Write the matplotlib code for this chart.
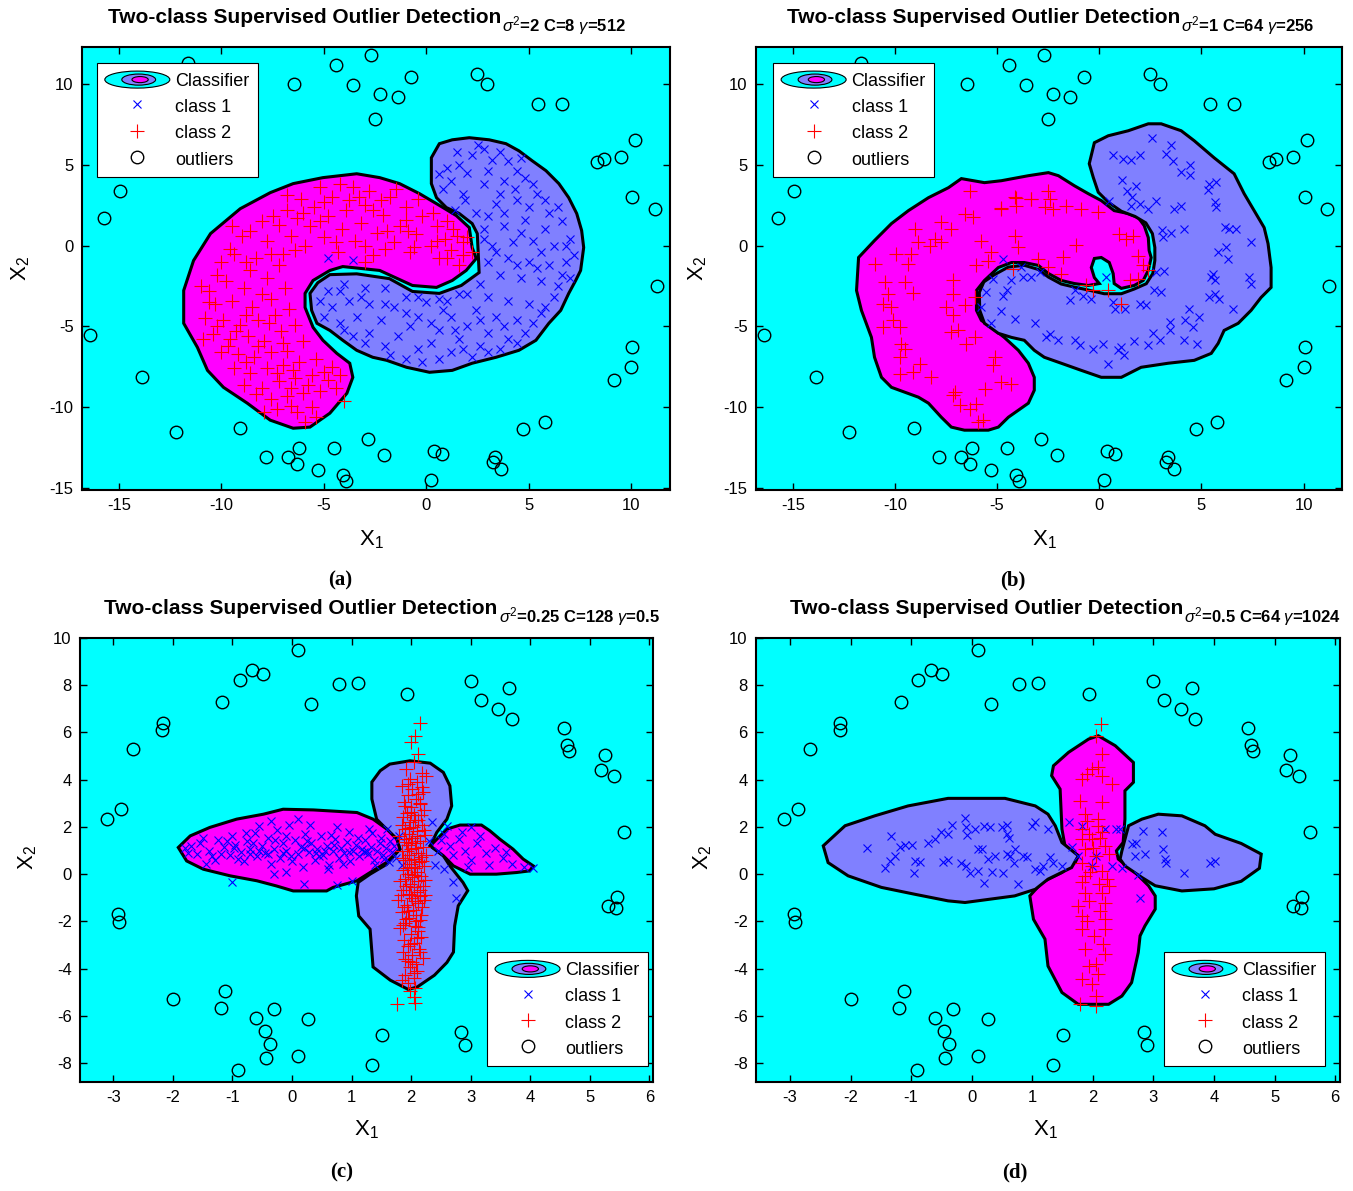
import matplotlib
matplotlib.use("Agg")
import matplotlib.pyplot as plt
import numpy as np
from matplotlib import font_manager
from matplotlib.legend_handler import HandlerBase
from matplotlib.patches import Ellipse, Polygon, Patch
from matplotlib.lines import Line2D

names = {f.name for f in font_manager.fontManager.ttflist}
SANS = "Liberation Sans" if "Liberation Sans" in names else "DejaVu Sans"
SERIF = "Liberation Serif" if "Liberation Serif" in names else "DejaVu Serif"

plt.rcParams['font.family'] = [SANS, 'DejaVu Sans']
plt.rcParams['mathtext.fontset'] = 'custom'
plt.rcParams['mathtext.rm'] = SANS
plt.rcParams['mathtext.it'] = SANS + ':italic'
plt.rcParams['mathtext.bf'] = SANS + ':bold'
plt.rcParams['axes.unicode_minus'] = False

CYAN = '#00ffff'
MAGENTA = '#ff00ff'
LBLUE = '#8080ff'

# ---------------- data: panels (a) and (b) share the outliers ----------------
ab_outliers = [(-11.65, 11.3), (-4.42, 11.17), (-2.72, 11.79), (-6.46, 10.0), (-3.59, 9.94),
               (-2.28, 9.38), (-2.52, 7.84), (-14.95, 3.40), (-15.73, 1.73), (-0.73, 10.43),
               (-1.41, 9.20), (2.48, 10.62), (2.96, 10.0), (5.44, 8.77), (6.60, 8.77),
               (10.19, 6.54), (9.47, 5.49), (8.64, 5.37), (8.30, 5.19), (10.05, 3.02),
               (11.17, 2.28), (-16.4, -5.56), (-13.88, -8.15), (-12.23, -11.54), (-9.08, -11.30),
               (-7.82, -13.09), (-6.75, -13.09), (-6.21, -12.53), (-6.31, -13.52), (-5.29, -13.89),
               (-4.51, -12.53), (-4.08, -14.2), (-3.93, -14.57), (-2.86, -11.98), (-2.09, -12.96),
               (11.26, -2.53), (10.05, -6.30), (10.0, -7.53), (9.13, -8.33), (5.78, -10.93),
               (4.71, -11.36), (0.39, -12.72), (0.78, -12.90), (3.35, -13.09), (3.25, -13.40),
               (3.64, -13.83), (0.24, -14.51)]

a_region2 = [(2.23, -0.12), (2.09, 1.11), (1.46, 1.85), (0.49, 2.59), (-0.34, 3.21), (-1.31, 3.83),
             (-2.28, 4.20), (-3.40, 4.44), (-5.05, 4.20), (-6.50, 3.83), (-7.62, 3.27), (-9.08, 2.28),
             (-10.53, 0.74), (-11.36, -0.93), (-11.84, -2.78), (-11.84, -4.81), (-11.17, -6.30),
             (-10.68, -7.72), (-9.90, -8.77), (-8.74, -9.75), (-7.62, -10.80), (-6.50, -11.30),
             (-5.68, -11.23), (-4.71, -10.37), (-3.88, -9.14), (-3.59, -8.15), (-3.74, -7.28),
             (-4.37, -6.67), (-5.05, -5.86), (-5.53, -5.06), (-5.92, -3.83), (-5.92, -2.96),
             (-5.53, -2.16), (-4.71, -1.54), (-4.08, -1.30), (-2.28, -1.54), (-0.68, -2.47),
             (0.49, -2.59), (1.26, -2.16), (1.94, -1.54), (2.43, -0.80)]

a_region1 = [(0.24, 5.43), (0.63, 6.30), (1.26, 6.54), (2.09, 6.67), (3.06, 6.54), (3.88, 6.30),
             (4.51, 5.86), (5.15, 5.25), (5.83, 4.63), (6.46, 3.83), (6.94, 2.96), (7.33, 1.98),
             (7.57, 0.93), (7.67, -0.12), (7.52, -1.54), (7.28, -2.16), (6.94, -2.96), (6.55, -4.01),
             (5.97, -4.81), (5.34, -5.86), (4.51, -6.48), (3.40, -6.91), (2.23, -7.28), (1.26, -7.72),
             (0.15, -7.84), (-0.97, -7.53), (-1.94, -7.10), (-2.62, -6.91), (-3.40, -6.48),
             (-4.08, -5.86), (-4.71, -5.25), (-5.34, -4.81), (-5.60, -4.01), (-5.68, -2.96),
             (-5.30, -2.30), (-4.71, -1.80), (-3.40, -1.75), (-1.80, -2.05), (-0.68, -2.84),
             (0.63, -2.96), (1.70, -2.47), (2.57, -1.67), (2.48, 0.74), (2.23, 1.36), (1.60, 1.98),
             (0.97, 2.35), (0.49, 2.96), (0.24, 3.83)]

a_class1 = [(1.5, 5.8), (2.5, 6.2), (1.0, 4.8), (2.0, 4.5), (3.2, 5.3), (4.0, 5.2), (0.8, 3.5), (1.8, 3.2),
            (2.8, 3.8), (3.8, 4.0), (4.8, 4.2), (1.4, 2.2), (2.4, 2.0), (3.4, 2.6), (4.4, 2.8), (5.4, 3.2),
            (6.0, 2.0), (2.8, 1.0), (3.8, 1.2), (4.8, 1.6), (5.8, 1.0), (6.6, 1.5), (3.2, 0.0), (4.2, 0.2),
            (5.2, 0.3), (6.2, 0.0), (7.0, 0.4), (3.0, -1.0), (4.0, -0.8), (5.0, -1.0), (6.0, -1.2),
            (6.8, -1.0), (7.0, -2.0), (3.6, -1.8), (4.6, -2.0), (5.6, -2.2), (6.4, -2.5), (2.6, -2.4),
            (1.2, 4.0), (3.0, 4.6), (4.3, 3.5), (5.0, 2.4), (3.0, 1.8), (3.6, 3.2), (2.0, -3.0),
            (3.0, -3.2), (4.0, -3.4), (5.0, -3.6), (5.8, -3.8), (1.0, -3.4), (2.4, -4.0), (3.4, -4.4),
            (4.4, -4.6), (5.2, -4.8), (0.0, -3.5), (1.2, -4.4), (2.0, -5.0), (3.0, -5.4), (4.0, -5.8),
            (-1.0, -3.2), (-0.4, -4.4), (0.6, -5.2), (1.6, -5.8), (2.6, -6.2), (3.6, -6.4), (-2.0, -2.6),
            (-1.6, -3.8), (-0.8, -5.0), (0.2, -6.0), (1.2, -6.6), (-3.0, -2.6), (-2.8, -3.6), (-2.2, -4.6),
            (-1.4, -5.6), (-0.4, -6.4), (0.6, -7.0), (-4.0, -2.4), (-3.8, -3.4), (-3.4, -4.4), (-2.8, -5.4),
            (-2.0, -6.2), (-4.8, -2.8), (-4.6, -3.8), (-4.2, -4.8), (-3.6, -5.6), (-5.2, -3.4), (-1.0, -7.0),
            (2.2, -6.9), (0.6, -3.3), (1.6, -3.0), (-4.8, -0.8), (-3.6, -0.9), (4.6, 5.4), (1.9, 2.8),
            (0.6, 4.4), (1.6, 5.0), (2.2, 5.6), (2.8, 6.0), (3.6, 5.8), (4.4, 4.6), (5.2, 3.8), (5.8, 2.8),
            (6.4, 2.4), (6.8, 0.0), (7.2, -0.6), (6.6, -1.8), (5.4, -1.4), (4.4, -1.2), (3.4, -0.4),
            (2.8, 0.4), (3.8, 2.0), (4.6, 0.8), (5.6, -0.4), (2.6, -4.6), (3.8, -5.0), (4.8, -5.4),
            (5.6, -4.2), (6.2, -3.2), (1.4, -5.2), (0.2, -4.8), (-1.0, -4.2), (-2.0, -3.6), (-3.2, -3.2),
            (-4.2, -2.8), (-5.0, -4.4), (-4.0, -5.2), (-3.0, -6.0), (-1.8, -6.8), (-0.2, -7.2), (1.8, -6.4),
            (3.0, -6.6), (4.4, -6.0), (0.8, -4.0), (-0.4, -3.2)]

a_class2 = [(2.0, 0.5), (1.8, 0.2), (1.5, 0.6), (1.2, -0.3), (1.6, -1.2), (0.9, 0.4), (0.5, 1.2), (0.2, 0.0),
            (0.6, -0.8), (-0.2, 1.8), (-0.5, 0.7), (-0.8, -0.4), (-1.0, 2.4), (-1.3, 1.2), (-1.6, 0.2),
            (-1.8, 3.0), (-2.1, 1.9), (-2.4, 0.8), (-2.6, -0.6), (-2.8, 3.4), (-3.0, 2.5), (-3.2, 1.4),
            (-3.5, 0.3), (-3.6, 3.6), (-3.9, 2.2), (-4.1, 1.0), (-4.3, -0.4), (-4.6, 3.0), (-4.8, 1.8),
            (-5.0, 0.5), (-5.2, 3.6), (-5.5, 2.4), (-5.7, 1.2), (-5.9, 0.0), (-6.1, 2.9), (-6.3, 1.7),
            (-6.6, 0.6), (-6.8, 2.2), (-7.0, -0.5), (-7.2, 1.3), (-0.4, 2.9), (0.3, 2.0), (1.0, 1.5),
            (-1.5, 3.5), (2.2, -0.4), (-2.0, -0.2), (-3.0, -1.0), (1.3, 1.0), (-0.9, 0.9), (-3.3, 3.0),
            (-7.8, 0.3), (-8.3, -0.8), (-8.0, 1.5), (-9.0, 0.6), (-9.4, -0.5), (-8.6, -1.5), (-10.0, -1.0),
            (-9.8, -2.2), (-8.9, -2.6), (-7.8, -2.0), (-7.2, -1.2), (-10.6, -2.8), (-10.3, -3.6),
            (-9.5, -3.4), (-8.5, -3.8), (-7.6, -3.3), (-6.9, -2.6), (-10.8, -4.5), (-9.9, -4.6),
            (-9.1, -4.9), (-8.2, -4.6), (-7.4, -4.3), (-6.7, -3.9), (-10.4, -5.5), (-9.6, -5.8),
            (-8.7, -5.6), (-7.9, -5.9), (-7.1, -5.3), (-6.4, -4.9), (-10.0, -6.6), (-9.2, -6.7),
            (-8.4, -6.9), (-7.6, -6.6), (-6.8, -6.5), (-6.0, -5.9), (-9.4, -7.6), (-8.6, -7.9),
            (-7.8, -7.6), (-7.0, -7.4), (-6.2, -7.2), (-5.4, -7.0), (-4.6, -7.5), (-8.9, -8.6),
            (-8.0, -8.8), (-7.2, -8.4), (-6.4, -8.2), (-5.6, -8.0), (-4.8, -8.3), (-4.2, -8.0),
            (-7.6, -9.5), (-6.8, -9.3), (-6.0, -9.1), (-5.2, -9.0), (-7.3, -10.1), (-6.3, -10.3),
            (-5.6, -10.0), (-5.9, -10.9), (-6.6, -9.9), (-8.3, -9.2),
            (-1.0, 1.6), (-2.6, 2.2), (-3.8, 2.8), (-5.0, 2.7), (-6.0, 2.0), (-7.5, 1.8), (-8.6, 0.9),
            (-9.6, -0.2), (-10.2, -1.8), (-10.6, -3.5), (-10.2, -5.0), (-9.7, -6.2), (-8.8, -7.2),
            (-7.3, -7.9), (-6.6, -8.8), (-5.8, -8.6), (-5.0, -7.8), (-4.4, -8.8), (-8.0, -3.0), (-8.8, -4.3),
            (-9.3, -5.3), (-7.7, -4.8), (-8.2, -6.2), (-7.0, -6.0), (-6.5, -7.7), (-8.8, -1.0), (-7.6, -0.5),
            (-6.4, -0.3), (-5.2, 1.5), (-4.4, 0.2), (-3.0, 0.0), (-1.9, 0.9), (-0.6, -0.1), (0.5, 0.3),
            (1.0, -0.8), (1.8, -0.6), (-2.2, 2.8), (-4.2, 3.8), (-6.8, 3.1), (-9.5, 1.2), (-11.0, -2.5),
            (-10.9, -5.8), (-5.4, -10.6), (-7.9, -10.3), (-4.0, -9.6)]

b_region2 = [(-7.38, 3.58), (-6.75, 4.14), (-5.62, 3.89), (-4.79, 4.01), (-3.47, 4.32), (-2.49, 4.51),
             (-2.00, 4.32), (-1.22, 3.70), (-0.54, 3.21), (0.10, 2.78), (0.73, 2.16), (1.42, 1.98),
             (1.91, 1.73), (2.20, 1.23), (2.40, 0.49), (2.44, -0.31), (2.54, -0.74), (2.40, -1.54),
             (2.15, -2.16), (1.71, -2.47), (1.08, -2.65), (0.73, -2.35), (0.68, -1.73), (0.49, -1.05),
             (0.10, -0.74), (-0.24, -0.80), (-0.39, -1.36), (-0.24, -1.98), (0.0, -2.35), (-0.54, -2.47),
             (-1.22, -2.35), (-1.86, -2.16), (-2.49, -1.73), (-2.98, -1.23), (-3.67, -1.05), (-4.30, -1.05),
             (-4.94, -1.36), (-5.62, -2.16), (-6.01, -2.78), (-6.01, -4.01), (-5.77, -4.63), (-5.28, -5.06),
             (-4.65, -5.68), (-3.96, -6.48), (-3.47, -7.28), (-3.18, -8.15), (-3.18, -8.95), (-3.47, -9.75),
             (-4.45, -10.62), (-4.94, -11.23), (-5.43, -11.42), (-6.60, -11.42), (-7.24, -11.23),
             (-7.73, -10.62), (-8.36, -9.75), (-8.85, -9.38), (-10.17, -8.77), (-10.66, -8.15),
             (-11.00, -6.91), (-11.15, -5.68), (-11.64, -4.01), (-11.88, -2.78), (-11.78, -0.74),
             (-11.00, 0.31), (-10.17, 1.36), (-9.34, 2.16), (-8.36, 2.96)]

b_region1 = [(-0.49, 5.06), (-0.24, 6.36), (0.44, 6.79), (1.42, 7.10), (2.40, 7.53), (3.03, 7.53), (4.01, 7.10),
             (4.65, 6.48), (5.62, 5.43), (6.60, 4.44), (7.09, 3.21), (7.58, 2.16), (8.07, 1.11), (8.26, 0.12),
             (8.41, -1.36), (8.41, -2.59), (7.92, -3.21), (7.43, -4.01), (6.80, -4.81), (6.11, -5.25),
             (5.82, -6.05), (5.48, -6.67), (4.65, -7.10), (3.37, -7.28), (2.05, -7.53), (1.08, -8.15),
             (0.10, -8.15), (-0.88, -7.72), (-1.86, -7.28), (-2.69, -6.91), (-3.18, -6.48), (-3.67, -5.86),
             (-4.30, -5.68), (-4.94, -5.43), (-5.62, -4.81), (-5.85, -4.01), (-5.87, -2.90), (-5.65, -2.25),
             (-5.13, -1.80), (-4.45, -1.33), (-3.67, -1.22), (-2.98, -1.48), (-2.49, -1.95), (-1.86, -2.38),
             (-1.22, -2.57), (-0.54, -2.75), (0.24, -2.98), (1.08, -2.98), (1.71, -2.69), (2.30, -2.36),
             (2.62, -1.73), (2.72, -0.93), (2.72, -0.12), (2.60, 0.74), (2.28, 1.40), (1.75, 1.80),
             (1.08, 2.12), (0.44, 2.68), (-0.05, 3.30), (-0.29, 4.20)]

b_class1 = [(2.59, 6.65), (3.52, 6.21), (0.67, 5.62), (1.16, 5.35), (1.56, 5.29), (1.97, 5.62), (3.28, 5.66),
            (3.60, 5.20), (4.45, 4.98), (4.01, 4.53), (4.45, 4.36), (1.11, 4.07), (1.81, 3.70), (1.37, 3.40),
            (1.60, 2.98), (1.56, 2.43), (1.97, 2.57), (2.38, 2.26), (2.79, 2.74), (0.50, 2.78), (3.68, 2.26),
            (4.01, 2.47), (5.39, 3.81), (5.72, 3.91), (5.31, 3.44), (5.67, 2.67), (5.72, 2.37), (3.08, 0.97),
            (3.52, 0.76), (3.11, 0.51), (4.14, 1.03), (6.13, 1.13), (6.37, 1.03), (6.70, 1.03), (7.43, 0.21),
            (6.21, -0.10), (5.80, -0.41), (6.29, -0.82), (-4.71, -0.82), (-3.81, -1.34), (-3.33, -1.96),
            (-2.92, -1.65), (-4.30, -2.16), (-5.20, -2.06), (-5.53, -2.88), (-5.77, -3.81), (-4.71, -3.09),
            (-4.50, -2.78), (-4.79, -4.05), (-4.14, -4.53), (-5.28, -4.77), (-3.16, -4.77), (-2.43, -5.45),
            (-2.59, -5.66), (-2.02, -5.82), (-1.21, -5.82), (-0.96, -6.17), (-0.31, -6.38), (0.18, -6.11),
            (0.42, -7.30), (0.91, -6.48), (1.08, -6.28), (1.19, -6.79), (1.68, -5.93), (2.38, -6.17),
            (2.63, -5.41), (2.95, -5.86), (3.44, -5.25), (4.14, -5.86), (4.79, -6.11), (3.44, -4.73),
            (4.21, -4.59), (4.58, -5.04), (4.86, -4.42), (4.37, -3.91), (6.54, -3.91), (5.39, -3.19),
            (5.88, -3.29), (5.64, -2.98), (5.56, -1.75), (5.64, -2.16), (5.48, -1.95), (7.35, -1.95),
            (7.43, -2.37), (2.79, -1.65), (3.19, -1.58), (2.70, -2.78), (3.03, -2.88), (1.97, -3.60),
            (2.30, -3.70), (0.67, -3.50), (0.75, -3.91), (1.24, -3.91), (0.34, -1.95), (-1.45, -3.35),
            (-1.21, -2.78), (-0.80, -3.09), (-0.39, -3.29), (-3.73, -1.95)]

b_class2 = [(-6.34, 3.40), (-4.06, 2.94), (-3.36, 2.88), (-2.51, 3.40), (-2.43, 2.88), (-4.83, 2.33),
            (-4.06, 2.47), (-2.67, 2.37), (-2.27, 2.26), (-6.59, 1.96), (-6.18, 1.75), (-7.73, 1.44),
            (-7.24, 1.03), (-9.03, 1.03), (-5.77, 0.31), (-4.14, 0.62), (-8.05, 0.41), (-7.73, 0.21),
            (-8.30, 0.0), (-8.87, 0.21), (-9.93, -0.51), (-9.19, -0.51), (-5.28, -0.41), (-9.35, -1.13),
            (-10.99, -1.13), (-6.01, -1.19), (-3.98, -0.10), (-5.44, -0.93), (-10.50, -2.26), (-9.52, -2.26),
            (-7.16, -2.16), (-10.33, -2.98), (-9.11, -2.94), (-7.16, -2.98), (-6.10, -3.19), (-10.58, -3.60),
            (-10.17, -3.81), (-7.48, -3.81), (-6.59, -3.70), (-10.09, -4.63), (-9.76, -5.04), (-10.58, -5.04),
            (-7.16, -4.32), (-7.24, -5.35), (-6.91, -5.25), (-6.10, -5.66), (-6.50, -6.07), (-9.68, -6.07),
            (-9.52, -6.38), (-9.77, -6.89), (-8.79, -7.30), (-9.11, -7.82), (-8.22, -8.13), (-9.77, -7.92),
            (-5.12, -6.89), (-5.20, -7.41), (-4.79, -8.44), (-4.30, -8.54), (-5.61, -8.85), (-7.08, -9.05),
            (-7.16, -9.26), (-6.83, -9.88), (-6.01, -9.77), (-6.34, -10.08), (-5.93, -10.91), (-5.69, -10.80),
            (-4.14, 2.98), (-3.33, 2.88), (-4.79, 2.26), (-1.61, 2.47), (-0.88, 2.26), (-0.06, 2.06),
            (0.99, 0.72), (1.32, 0.41), (1.65, 0.56), (-1.12, 0.04), (-1.78, -0.72), (-3.00, -0.82),
            (1.89, -0.62), (-4.22, -1.44), (-2.51, -1.34), (-1.86, -1.75), (2.14, -1.23), (2.38, -1.50),
            (1.89, -2.06), (1.48, -2.16), (-0.64, -2.47), (-0.31, -2.78), (0.42, -2.78), (1.08, -3.60)]

# ---------------- data: panels (c) and (d) share the outliers ----------------
cd_outliers = [(-2.67, 5.28), (-2.17, 6.38), (-2.18, 6.11), (-1.17, 7.30), (-0.88, 8.22), (-0.67, 8.64),
               (-0.49, 8.46), (0.10, 9.51), (0.32, 7.19), (0.78, 8.04), (1.10, 8.09), (1.93, 7.61),
               (3.00, 8.16), (3.17, 7.37), (3.46, 6.99), (3.64, 7.87), (3.69, 6.57), (4.56, 6.21),
               (4.61, 5.49), (4.65, 5.22), (5.25, 5.05), (5.19, 4.42), (5.41, 4.17), (5.58, 1.77),
               (5.45, -0.97), (5.31, -1.36), (5.44, -1.43), (-3.10, 2.33), (-2.87, 2.78), (-2.93, -1.69),
               (-2.91, -2.03), (-2.00, -5.27), (-1.12, -4.96), (-1.20, -5.65), (-0.61, -6.08),
               (-0.31, -5.70), (-0.46, -6.65), (-0.37, -7.18), (-0.44, -7.79), (-0.90, -8.29),
               (0.27, -6.12), (0.10, -7.72), (1.51, -6.80), (1.34, -8.10), (2.84, -6.70), (2.90, -7.24)]

c_left = [(-1.91, 1.13), (-1.71, 1.62), (-1.38, 1.98), (-0.93, 2.33), (-0.48, 2.54), (-0.15, 2.75),
          (0.36, 2.72), (1.09, 2.61), (1.36, 2.33), (1.59, 1.91), (1.76, 1.48), (1.81, 1.06), (1.59, 0.50),
          (1.31, 0.07), (1.09, -0.28), (0.69, -0.56), (0.58, -0.71), (0.02, -0.71), (-0.26, -0.50),
          (-0.59, -0.28), (-1.04, -0.07), (-1.49, 0.21), (-1.77, 0.56)]
c_right = [(2.32, 1.20), (2.60, 1.91), (2.82, 2.08), (3.18, 2.08), (3.32, 1.84), (3.49, 1.48), (3.71, 1.06),
           (3.88, 0.64), (4.05, 0.35), (3.99, 0.14), (3.77, 0.07), (3.43, 0.0), (2.99, 0.0), (2.71, 0.35),
           (2.54, 0.78)]
c_vert = [(1.34, 3.90), (1.48, 4.38), (1.64, 4.66), (1.98, 4.80), (2.32, 4.70), (2.54, 4.31), (2.65, 3.74),
          (2.68, 2.89), (2.60, 2.33), (2.43, 1.77), (2.32, 1.20), (2.54, 0.78), (2.65, 0.35), (2.87, -0.35),
          (2.95, -0.70), (2.79, -1.34), (2.73, -2.19), (2.71, -3.30), (2.60, -3.74), (2.39, -4.28),
          (2.10, -4.78), (1.95, -4.88), (1.65, -4.49), (1.36, -3.93), (1.31, -2.33), (1.12, -1.77),
          (1.08, -0.92), (1.11, -0.35), (1.31, 0.0), (1.59, 0.42), (1.81, 1.06), (1.76, 1.48), (1.64, 1.77),
          (1.42, 2.33), (1.34, 3.18)]

c_class1 = [(-1.80, 1.10), (-1.60, 0.85), (-1.55, 1.30), (-1.40, 1.00), (-1.30, 0.60), (-1.25, 1.45),
            (-1.15, 1.15), (-1.05, 0.80), (-1.00, 1.60), (-0.95, 1.25), (-0.85, 0.95), (-0.80, 0.55),
            (-0.75, 1.40), (-0.70, 1.05), (-0.62, 1.75), (-0.58, 0.75), (-0.50, 1.20), (-0.45, 0.90),
            (-0.40, 1.55), (-0.35, 0.45), (-0.30, 1.05), (-0.25, 1.85), (-0.20, 0.70), (-0.15, 1.30),
            (-0.10, 1.00), (-0.05, 2.10), (0.00, 0.55), (0.05, 1.45), (0.10, 0.85), (0.15, 1.15),
            (0.18, 0.30), (0.22, 1.70), (0.28, 0.95), (0.32, 1.30), (0.38, 0.60), (0.42, 1.05), (0.48, 1.60),
            (0.52, 0.80), (0.58, 1.20), (0.62, 0.40), (0.68, 1.00), (0.72, 1.50), (0.78, 0.70), (0.82, 1.10),
            (0.88, 0.90), (0.92, 1.35), (0.98, 0.55), (1.02, 1.00), (1.08, 1.25), (1.12, 0.75), (1.18, 1.05),
            (1.22, 1.45), (1.28, 0.85), (1.32, 1.15), (1.38, 0.60), (1.42, 1.00), (1.48, 1.30), (1.52, 0.80),
            (1.58, 1.10), (1.62, 0.50), (1.68, 0.95), (1.72, 1.20), (-1.70, 1.20), (-1.35, 0.75),
            (-1.10, 1.40), (-0.90, 0.65), (-0.65, 1.30), (-0.40, 0.85), (-0.10, 1.60), (0.20, 1.10),
            (0.45, 0.75), (0.70, 1.25), (0.95, 0.95), (1.25, 1.00), (1.55, 0.65), (-0.55, 2.05), (0.10, 2.35),
            (0.75, 2.00), (1.30, 1.90), (-0.10, 0.10), (0.60, 0.20), (1.00, -0.30), (-1.00, -0.35),
            (0.20, -0.42), (0.75, -0.46), (-0.30, 0.00), (1.35, 1.75), (1.50, 1.55), (2.30, 1.40), (2.45, 1.00),
            (2.55, 1.70), (2.65, 1.20), (2.70, 0.80), (2.80, 1.50), (2.90, 1.00), (3.00, 0.60), (3.10, 1.30),
            (3.25, 0.90), (3.40, 1.10), (3.55, 0.70), (3.70, 0.45), (3.90, 0.30), (4.05, 0.25), (2.60, 2.05),
            (3.00, 2.00), (2.40, 0.40), (2.55, 0.20), (2.70, -0.35), (2.75, -1.03), (2.85, 1.80), (3.30, 0.40),
            (1.80, 1.60), (1.85, 0.40), (2.35, 2.20), (1.60, 1.90),
            (-1.75, 0.90), (-1.50, 1.55), (-1.20, 0.85), (-0.98, 1.10), (-0.78, 1.75), (-0.55, 1.00),
            (-0.28, 1.45), (-0.02, 0.75), (0.25, 1.40), (0.40, 0.90), (0.65, 1.65), (0.85, 0.45), (1.10, 1.55),
            (1.40, 0.40), (1.65, 1.40), (1.20, 0.95), (0.55, 1.00), (-0.15, 0.90), (-0.70, 0.85), (-1.45, 0.45),
            (0.95, 1.80), (0.30, 2.10), (-0.35, 2.25), (1.75, 0.70), (2.50, 1.45), (3.15, 1.60), (3.60, 0.95),
            (2.95, 0.30)]

c_class2 = [(2.14, 6.38), (2.07, 5.86), (2.00, 5.58), (2.12, 5.08), (2.05, 4.75), (1.92, 4.45), (2.18, 4.30),
            (2.25, 4.15), (1.98, 4.05), (2.10, 3.90), (1.85, 3.75), (2.02, 3.60), (2.20, 3.50), (1.95, 3.35),
            (2.08, 3.20), (1.88, 3.05), (2.15, 2.95), (2.00, 2.85), (2.22, 2.70), (1.93, 2.60), (2.05, 2.50),
            (1.86, 2.40), (2.12, 2.30), (1.98, 2.20), (2.18, 2.10), (2.03, 2.00), (1.90, 1.90), (2.10, 1.82),
            (1.96, 1.72), (2.24, 1.65), (2.01, 1.55), (1.88, 1.48), (2.14, 1.40), (2.06, 1.30), (1.94, 1.22),
            (2.20, 1.15), (2.00, 1.05), (1.84, 0.98), (2.11, 0.90), (1.97, 0.82), (2.17, 0.74), (2.04, 0.66),
            (1.90, 0.58), (2.13, 0.50), (1.99, 0.42), (2.22, 0.35), (2.06, 0.26), (1.87, 0.18), (2.10, 0.10),
            (1.95, 0.02), (2.16, -0.06), (2.02, -0.14), (1.89, -0.22), (2.12, -0.30), (1.98, -0.40),
            (2.20, -0.48), (2.04, -0.56), (1.86, -0.65), (2.09, -0.74), (1.96, -0.84), (2.15, -0.93),
            (2.01, -1.02), (1.78, -1.10), (2.11, -1.20), (1.93, -1.30), (2.18, -1.40), (2.03, -1.50),
            (1.85, -1.62), (2.08, -1.72), (1.97, -1.84), (2.14, -1.95), (1.90, -2.08), (2.06, -2.20),
            (1.82, -2.30), (2.12, -2.42), (1.99, -2.55), (2.17, -2.68), (1.88, -2.80), (2.05, -2.92),
            (1.95, -3.05), (2.13, -3.18), (1.86, -3.30), (2.02, -3.42), (2.20, -3.55), (1.94, -3.68),
            (2.08, -3.80), (1.98, -3.95), (2.10, -4.10), (1.90, -4.25), (2.04, -4.40), (1.95, -4.60),
            (2.06, -4.80), (1.84, -4.50), (2.05, -5.20), (2.06, -5.45), (1.77, -5.50), (2.15, 3.00),
            (1.80, 1.60), (2.25, 0.80), (1.82, -0.30), (2.22, -1.10), (2.00, 0.30), (2.00, 1.30),
            (2.00, -0.90), (2.07, 2.30), (1.93, 1.00), (2.10, -2.70), (1.92, -1.90),
            (1.95, 3.80), (2.12, 3.40), (1.90, 2.90), (2.16, 2.50), (1.97, 1.95), (2.21, 1.85), (1.92, 1.35),
            (2.08, 1.10), (1.86, 0.70), (2.19, 0.55), (1.93, 0.25), (2.05, -0.05), (2.23, -0.25), (1.91, -0.50),
            (2.14, -0.65), (1.83, -0.90), (2.07, -1.15), (1.95, -1.55), (2.16, -1.75), (1.87, -2.15),
            (2.11, -2.25), (1.98, -2.95), (2.15, -3.30), (1.90, -3.60), (2.05, -4.20), (1.98, -4.95),
            (2.10, 1.60), (2.00, 2.65), (1.88, -1.40), (2.02, -3.70), (2.18, 3.70), (1.84, 2.10), (2.24, -0.90),
            (1.96, 0.60), (2.08, -2.00)]

d_vert = [(2.09, 5.86), (2.37, 5.44), (2.67, 4.73), (2.67, 3.89), (2.53, 3.53), (2.53, 2.33), (2.50, 1.34),
          (2.39, 0.99), (2.42, 0.64), (2.70, 0.07), (2.92, -0.49), (3.03, -0.92), (3.03, -1.48), (2.86, -2.19),
          (2.78, -2.61), (2.75, -3.32), (2.64, -4.59), (2.48, -5.16), (2.26, -5.51), (1.76, -5.51),
          (1.49, -5.01), (1.26, -3.89), (1.21, -2.75), (1.02, -1.91), (0.96, -0.92), (1.16, -0.35),
          (1.49, 0.07), (1.71, 0.50), (1.76, 0.78), (1.54, 1.20), (1.49, 1.91), (1.46, 3.60), (1.32, 4.17),
          (1.35, 4.59), (1.60, 5.16), (1.93, 5.72)]
d_left = [(-2.45, 1.20), (-2.09, 2.05), (-1.60, 2.47), (-1.05, 2.89), (-0.39, 3.21), (0.55, 3.21), (1.05, 2.89),
          (1.26, 2.54), (1.38, 2.05), (1.49, 1.34), (1.76, 0.78), (1.65, 0.28), (1.26, -0.21), (1.05, -0.64),
          (0.71, -0.92), (-0.11, -1.20), (-0.39, -1.13), (-0.94, -0.85), (-1.49, -0.56), (-2.04, -0.07),
          (-2.37, 0.49)]
d_right = [(2.48, 0.99), (2.59, 2.05), (2.81, 2.33), (3.08, 2.54), (3.47, 2.47), (3.85, 2.05), (4.02, 1.69),
           (4.45, 1.30), (4.78, 0.85), (4.75, 0.25), (4.45, -0.30), (4.00, -0.62), (3.47, -0.71), (3.03, -0.49),
           (2.81, -0.14), (2.53, 0.35), (2.45, 0.64)]

d_class1 = [(-1.73, 1.09), (-1.43, 0.28), (-1.33, 1.60), (-1.35, 0.56), (-1.27, 0.78), (-1.18, 1.13),
            (-1.10, 1.23), (-0.99, 1.23), (-0.94, 0.56), (-0.85, 0.52), (-0.95, 0.04), (-0.72, 1.34),
            (-0.60, 1.48), (-0.50, 1.77), (-0.39, 1.69), (-0.33, 2.08), (-0.47, 0.52), (-0.39, 0.59),
            (-0.18, 0.47), (-0.10, 0.35), (-0.11, 2.36), (-0.10, 1.98), (-0.08, 1.65), (0.05, 1.91),
            (-0.03, 0.04), (0.11, 0.14), (0.10, 1.06), (0.17, 1.06), (0.20, 2.05), (0.20, -0.38), (0.30, 1.98),
            (0.27, 0.64), (0.38, 0.78), (0.33, 0.10), (0.52, 0.07), (0.50, 1.98), (0.58, 2.08), (0.58, 1.69),
            (0.62, 1.55), (0.58, 0.85), (0.63, 0.78), (0.71, 1.06), (0.70, 0.47), (0.77, -0.42), (0.85, 0.78),
            (0.91, 0.71), (0.99, 2.05), (1.05, 2.22), (1.05, 0.24), (1.13, 0.14), (1.18, 0.35), (1.26, 1.91),
            (1.29, 0.71), (1.35, 0.49), (1.49, 0.35), (1.60, 2.19), (1.65, 1.13), (1.76, 0.78), (1.82, 2.05),
            (1.98, 0.35), (2.06, 0.78), (2.20, 1.91), (2.31, 0.35), (2.39, 1.91), (2.45, 1.91), (2.48, 0.28),
            (2.64, 1.27), (2.72, 1.34), (2.75, -0.04), (2.78, -0.99), (2.70, 0.78), (2.86, 0.85), (2.83, 1.84),
            (3.14, 1.77), (3.16, 1.06), (3.19, 0.64), (3.20, 0.49), (3.51, 0.04), (3.94, 0.49), (4.02, 0.55)]

d_class2 = [(2.14, 6.36), (2.06, 5.86), (2.15, 5.08), (1.98, 4.45), (1.90, 4.24), (2.09, 4.52), (2.15, 4.17),
            (1.82, 4.03), (2.31, 3.81), (1.79, 3.11), (2.15, 3.04), (1.87, 2.54), (1.90, 2.26), (2.09, 2.33),
            (1.82, 1.91), (1.93, 1.69), (2.09, 2.05), (2.15, 1.77), (1.82, 1.48), (1.98, 1.48), (2.12, 1.55),
            (2.20, 1.20), (1.87, 1.06), (2.06, 0.78), (2.26, 0.85), (1.82, 0.49), (1.98, 0.35), (2.15, 0.14),
            (1.87, -0.07), (2.23, -0.21), (1.82, -0.35), (2.26, -0.49), (1.87, -0.78), (2.15, -0.78),
            (1.93, -1.13), (2.20, -1.20), (1.76, -1.34), (2.12, -1.55), (1.82, -1.77), (2.20, -1.91),
            (1.82, -2.33), (2.20, -2.33), (2.17, -2.97), (1.87, -3.18), (2.20, -3.39), (1.93, -3.89),
            (2.06, -3.81), (2.09, -4.24), (1.82, -4.45), (1.98, -4.66), (2.06, -5.16), (1.79, -5.51),
            (2.06, -5.58), (2.00, 1.10), (1.95, 0.10), (2.10, -0.40), (2.02, -2.60), (1.90, -2.00)]

titles_sub = [r'$\sigma^{2}$=2 C=8 $\gamma$=512', r'$\sigma^{2}$=1 C=64 $\gamma$=256',
              r'$\sigma^{2}$=0.25 C=128 $\gamma$=0.5', r'$\sigma^{2}$=0.5 C=64 $\gamma$=1024']


class ClassifierIcon(HandlerBase):
    def create_artists(self, legend, orig_handle, xdescent, ydescent, width, height, fontsize, trans):
        cx = -xdescent + width / 2
        cy = -ydescent + height / 2
        out = []
        for k, (fw, fh, col) in enumerate([(1.0, 0.95, CYAN), (0.52, 0.62, LBLUE), (0.25, 0.34, MAGENTA)]):
            out.append(Ellipse((cx + k, cy), width * fw, height * fh, facecolor=col,
                               edgecolor='black', lw=0.8, transform=trans))
        return out


def panel(rect, xlim, ylim, xticks, yticks, regions, cls1, cls2, outl, sub, split,
          leg_loc, leg_anchor, xlab_pos, ylab_pos):
    ax = fig.add_axes(rect)
    ax.set_facecolor(CYAN)
    for poly, col in regions:
        ax.add_patch(Polygon(poly, closed=True, facecolor=col, edgecolor='black', lw=2.2, zorder=1))
    c1 = np.array(cls1)
    c2 = np.array(cls2)
    o = np.array(outl)
    ax.plot(c1[:, 0], c1[:, 1], ls='none', marker='x', color='#0000ff', ms=5.5, mew=0.8, zorder=3)
    ax.plot(c2[:, 0], c2[:, 1], ls='none', marker='+', color='#ff0000', ms=10, mew=0.8, zorder=3)
    ax.plot(o[:, 0], o[:, 1], ls='none', marker='o', mfc='none', mec='black', ms=9, mew=1.0, zorder=3)
    ax.set_xlim(xlim)
    ax.set_ylim(ylim)
    ax.set_xticks(xticks)
    ax.set_yticks(yticks)
    ax.tick_params(direction='in', top=True, right=True, length=5, width=1, labelsize=12, pad=6)
    for s in ax.spines.values():
        s.set_linewidth(1.5)
    # title: main text ends where the small parameter text begins
    ax.annotate('Two-class Supervised Outlier Detection', xy=(split, 1), xycoords='axes fraction',
                xytext=(0, 17), textcoords='offset points', ha='right', va='baseline',
                fontsize=15, fontweight='bold')
    ax.annotate(sub, xy=(split, 1), xycoords='axes fraction', xytext=(1, 11), textcoords='offset points',
                ha='left', va='baseline', fontsize=12, fontweight='bold')
    ax.set_xlabel('X$_1$', fontsize=16)
    ax.set_ylabel('X$_2$', fontsize=16)
    ax.xaxis.set_label_coords(*xlab_pos)
    ax.yaxis.set_label_coords(*ylab_pos)
    ax.xaxis.label.set_verticalalignment('center')
    ax.yaxis.label.set_verticalalignment('center')
    icon = Patch(facecolor=LBLUE)
    handles = [icon,
               Line2D([], [], ls='none', marker='x', color='#0000ff', ms=5.5, mew=0.8),
               Line2D([], [], ls='none', marker='+', color='#ff0000', ms=10, mew=0.8),
               Line2D([], [], ls='none', marker='o', mfc='none', mec='black', ms=9, mew=1.0)]
    leg = ax.legend(handles, ['Classifier', 'class 1', 'class 2', 'outliers'], loc=leg_loc,
                    bbox_to_anchor=leg_anchor, borderaxespad=0, fontsize=13, handlelength=3.6,
                    handleheight=1.15, labelspacing=0.4, handletextpad=0.3, borderpad=0.45,
                    fancybox=False, framealpha=1, edgecolor='black', handler_map={icon: ClassifierIcon()})
    leg.get_frame().set_linewidth(0.8)
    leg.set_zorder(5)
    return ax


W, H = 1353, 1191
fig = plt.figure(figsize=(W / 100, H / 100), dpi=100)


def r(l, t, rt, b):
    return [l / W, 1 - b / H, (rt - l) / W, (b - t) / H]


ax_a = panel(r(82, 47, 670, 490), (-16.8, 11.88), (-15.12, 12.28), range(-15, 11, 5), range(-15, 11, 5),
             [(a_region2, MAGENTA), (a_region1, LBLUE)], a_class1, a_class2, ab_outliers,
             titles_sub[0], 0.7126, 'upper left', (0.025, 0.965), (0.493, -0.113), (-0.105, 0.5))
ax_b = panel(r(756, 47, 1342, 490), (-16.8, 11.88), (-15.12, 12.28), range(-15, 11, 5), range(-15, 11, 5),
             [(b_region2, MAGENTA), (b_region1, LBLUE)], b_class1, b_class2, ab_outliers,
             titles_sub[1], 0.7235, 'upper left', (0.029, 0.965), (0.493, -0.113), (-0.10, 0.5))
ax_c = panel(r(80, 638, 653, 1082), (-3.56, 6.06), (-8.8, 10), range(-3, 7), range(-8, 11, 2),
             [(c_vert, LBLUE), (c_left, MAGENTA), (c_right, MAGENTA)], c_class1, c_class2, cd_outliers,
             titles_sub[2], 0.728, 'lower right', (0.991, 0.036), (0.499, -0.108), (-0.091, 0.505))
ax_d = panel(r(756, 638, 1340, 1082), (-3.56, 6.08), (-8.8, 10), range(-3, 7), range(-8, 11, 2),
             [(d_vert, MAGENTA), (d_left, LBLUE), (d_right, LBLUE)], d_class1, d_class2, cd_outliers,
             titles_sub[3], 0.731, 'lower right', (0.974, 0.036), (0.495, -0.108), (-0.091, 0.505))

for ax, lab, lx, ly in [(ax_a, '(a)', 340, 580), (ax_b, '(b)', 1013, 580),
                        (ax_c, '(c)', 342, 1172), (ax_d, '(d)', 1015, 1172)]:
    fig.text(lx / W, 1 - ly / H, lab, family=SERIF, fontweight='bold', fontsize=15, ha='center', va='center')

fig.savefig('out.png', dpi=100, facecolor='white')
